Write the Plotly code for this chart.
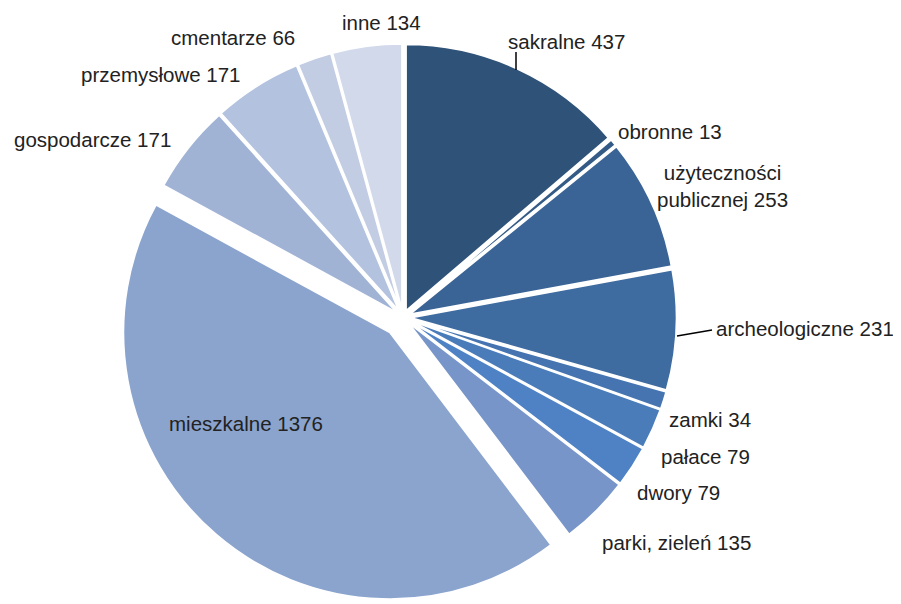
import plotly.graph_objects as go

# kategorie zabytkow i liczby obiektow
labels = ["sakralne", "obronne", "użyteczności publicznej", "archeologiczne", "zamki",
          "pałace", "dwory", "parki, zieleń", "mieszkalne", "gospodarcze",
          "przemysłowe", "cmentarze", "inne"]
values = [437, 13, 253, 231, 34, 79, 79, 135, 1376, 171, 171, 66, 134]
colors = ["#2F5279", "#345A86", "#3A6496", "#3E6BA0", "#4574B0", "#4A7CBA", "#4E82C4",
          "#7795C8", "#8BA4CE", "#A1B3D5", "#B3C2DE", "#C2CDE4", "#D1D9EB"]
pulls = [0.026] * 13
pulls[8] = 0.075

# label texts and where they sit (page pixels)
label_text = ["sakralne 437", "obronne 13", "użyteczności<br>publicznej 253",
              "archeologiczne 231", "zamki 34", "pałace 79", "dwory 79",
              "parki, zieleń 135", "mieszkalne 1376", "gospodarcze 171",
              "przemysłowe 171", "cmentarze 66", "inne 134"]
label_px = [(566, 42), (670, 131), (722, 186), (805, 328), (710, 419), (705, 456),
            (678, 492), (676, 542), (246, 423), (92, 139), (161, 74), (233, 38), (381, 22)]

# the page body has an 8px margin, so the figure is a bit smaller and shifted
OFF = 8
W, H = 901 - OFF, 604 - OFF


def px_to_paper(px, py):
    return (px - OFF) / W, 1 - (py - OFF) / H


fig = go.Figure(go.Pie(
    labels=labels,
    values=values,
    sort=False,
    direction="clockwise",
    rotation=0,
    pull=pulls,
    textinfo="none",
    hoverinfo="label+value",
    marker=dict(colors=colors, line=dict(color="white", width=2)),
    domain=dict(x=[0.1176, 0.7671], y=[0.0, 0.962]),
    showlegend=False,
))

for t, (px, py) in zip(label_text, label_px):
    x, y = px_to_paper(px, py)
    fig.add_annotation(x=x, y=y, xref="paper", yref="paper",
                       text=t, showarrow=False, xanchor="center", yanchor="middle",
                       font=dict(family="Liberation Sans, Arial", size=20.5, color="#222222"))

# linie odniesienia
for x0, y0, x1, y1 in [(516, 52, 516, 70), (677, 336, 712, 330)]:
    ax0, ay0 = px_to_paper(x0, y0)
    ax1, ay1 = px_to_paper(x1, y1)
    fig.add_shape(type="line", xref="paper", yref="paper",
                  x0=ax0, y0=ay0, x1=ax1, y1=ay1,
                  line=dict(color="black", width=1.5))

fig.update_layout(width=W, height=H, margin=dict(l=0, r=0, t=0, b=0),
                  paper_bgcolor="white", plot_bgcolor="white")

fig.write_html("out.html")
